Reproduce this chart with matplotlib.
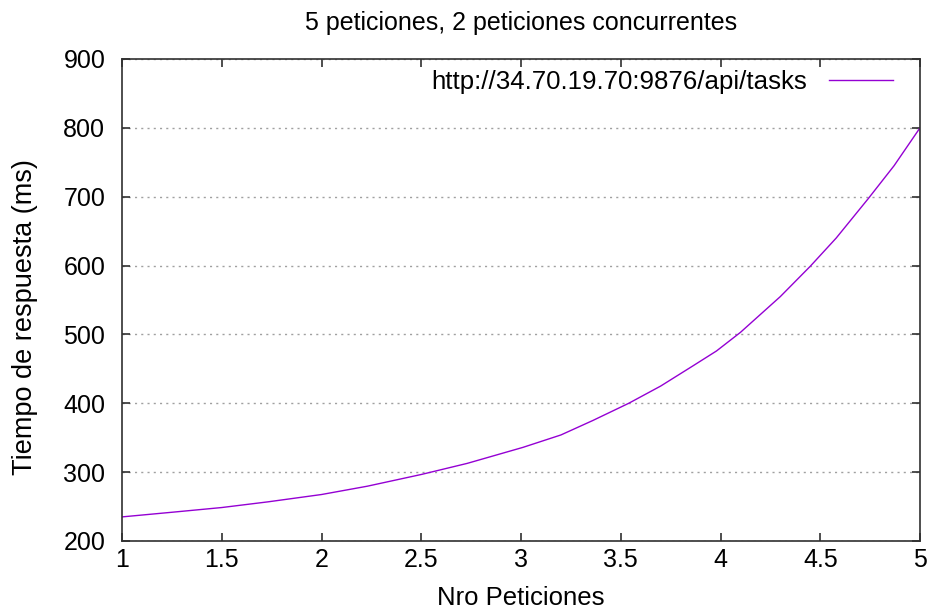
import matplotlib
matplotlib.use("Agg")
import matplotlib.pyplot as plt

plt.rcParams['font.family'] = ['Liberation Sans', 'DejaVu Sans']

x_vals = [1.0, 1.26, 1.5, 1.73, 2.0, 2.23, 2.5, 2.73, 3.01, 3.2, 3.36,
          3.54, 3.7, 3.86, 3.98, 4.1, 4.3, 4.45, 4.58, 4.74, 4.87, 5.0]
y_vals = [235, 242, 248.6, 256.8, 267.5, 279.6, 296.6, 312.7, 336, 354, 375,
          400, 425, 454, 476, 503, 555, 599, 640, 697, 745, 800]
series_label = "http://34.70.19.70:9876/api/tasks"
x_ticks = [1, 1.5, 2, 2.5, 3, 3.5, 4, 4.5, 5]
x_tick_labels = ["1", "1.5", "2", "2.5", "3", "3.5", "4", "4.5", "5"]
y_ticks = [200, 300, 400, 500, 600, 700, 800, 900]

fig = plt.figure(figsize=(9.33, 6.12), dpi=100)
ax = fig.add_axes([122/933, 1-541/612, (920-122)/933, (541-59)/612])

ax.plot(x_vals, y_vals, color="#9400d3", lw=1.0, label=series_label)

ax.set_xlim(1, 5)
ax.set_ylim(200, 900)
ax.set_xticks(x_ticks)
ax.set_xticklabels(x_tick_labels)
ax.set_yticks(y_ticks)

ax.yaxis.grid(True, linestyle=(0, (1.5, 3)), color="#a0a0a0", lw=1.0)
ax.set_axisbelow(True)

for s in ax.spines.values():
    s.set_color("#303030")
    s.set_linewidth(1.2)

ax.tick_params(axis='both', which='both', direction='in', length=6, width=1.2,
               color="#303030", top=True, right=True, labelsize=18)
ax.tick_params(axis='x', pad=5)
ax.tick_params(axis='y', pad=12)

ax.set_title("5 peticiones, 2 peticiones concurrentes", fontsize=18, pad=21)
ax.set_xlabel("Nro Peticiones", fontsize=18.5, labelpad=10)
ax.set_ylabel("Tiempo de respuesta (ms)", fontsize=19.5)
ax.yaxis.set_label_coords((38-122)/798, 0.464)

ax.legend(loc='center right', bbox_to_anchor=((893-122)/798, 0.952),
          frameon=False, markerfirst=False, fontsize=18.6, borderaxespad=0,
          borderpad=0, handlelength=2.47, handletextpad=0.85)

fig.savefig("out.png", dpi=100)
